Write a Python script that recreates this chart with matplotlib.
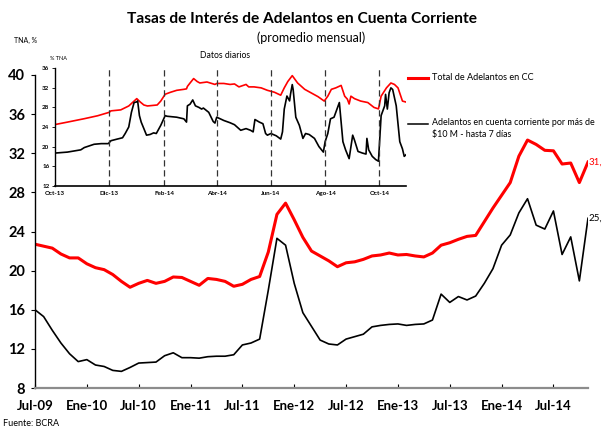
import numpy as np
import pandas as pd
import matplotlib
matplotlib.use('Agg')
import matplotlib.pyplot as plt
from matplotlib.lines import Line2D

plt.rcParams['font.family'] = ['Lato', 'DejaVu Sans']

# monthly averages, Jul-09 .. Nov-14 (TNA, %)
total_cc = [22.7, 22.5, 22.3, 21.7, 21.3, 21.3, 20.7, 20.3, 20.1, 19.6, 18.9, 18.3,
            18.7, 19.0, 18.7, 18.9, 19.35, 19.3, 18.9, 18.5, 19.2, 19.1, 18.9,
            18.4, 18.6, 19.1, 19.4, 21.9, 25.75, 26.9, 25.2, 23.4, 22.0, 21.5,
            21.0, 20.4, 20.8, 20.9, 21.15, 21.5, 21.6, 21.8, 21.6, 21.65, 21.5,
            21.4, 21.8, 22.6, 22.85, 23.2, 23.5, 23.6, 25.0, 26.4, 27.7, 29.0,
            31.7, 33.35, 32.9, 32.3, 32.25, 30.9, 31.0, 29.0, 31.1]
mas_10m = [16.0, 15.3, 13.9, 12.6, 11.5, 10.7, 10.9, 10.35, 10.2, 9.8, 9.7, 10.1,
           10.55, 10.6, 10.65, 11.3, 11.6, 11.1, 11.1, 11.05, 11.2, 11.25, 11.25,
           11.4, 12.4, 12.6, 13.0, 18.0, 23.3, 22.6, 18.7, 15.7, 14.3, 12.9,
           12.5, 12.4, 13.0, 13.25, 13.5, 14.25, 14.4, 14.5, 14.55, 14.4, 14.5,
           14.55, 14.95, 17.6, 16.75, 17.35, 17.0, 17.4, 18.7, 20.2, 22.6, 23.65,
           25.9, 27.35, 24.65, 24.25, 26.1, 21.65, 23.45, 18.95, 25.35]
month_labels = ['Jul-09', 'Ene-10', 'Jul-10', 'Ene-11', 'Jul-11', 'Ene-12',
                'Jul-12', 'Ene-13', 'Jul-13', 'Ene-14', 'Jul-14']

# daily data (days since 1-Oct-13)
red_days = [0, 14, 33, 48, 61, 63, 74, 83, 89, 92, 96, 100, 104, 115, 119, 124, 130,
            137, 145, 148, 149, 152, 156, 160, 163, 171, 180, 182, 190, 197,
            202, 207, 215, 218, 224, 232, 239, 247, 254, 258, 262, 267, 269, 273,
            281, 288, 296, 303, 307, 311, 316, 322, 326, 329, 331, 333, 337, 344,
            352, 359, 364, 367, 373, 378, 382, 386, 391, 395]
red_daily = [24.5, 25.0, 25.7, 26.3, 27.0, 27.3, 27.5, 28.3, 29.3, 29.8, 29.1, 28.5,
             28.3, 28.5, 29.3, 30.7, 31.1, 31.5, 31.7, 31.8, 32.3, 33.0, 33.9, 33.3,
             33.0, 33.2, 32.7, 32.9, 32.9, 32.7,
             32.8, 32.2, 32.7, 32.2, 32.2, 32.0, 31.5, 31.1, 30.5, 32.0, 33.3, 34.5,
             34.0, 33.0, 31.7, 31.0, 30.2, 29.3, 30.3, 31.7, 32.0, 32.5, 30.3, 29.7,
             28.7, 30.3, 29.8, 29.3, 29.0, 28.0, 27.7, 30.3, 32.0, 33.0, 32.7, 32.0,
             29.3, 29.1]
blk_days = [0, 14, 29, 33, 44, 52, 60, 63, 70, 76, 79, 83, 86, 89, 92, 93, 95, 97,
            100, 103, 107, 111, 114, 119, 124, 126, 137, 145, 148, 149, 152, 155,
            158, 162, 165, 167, 173, 178, 180, 182, 186, 190, 197,
            202, 209, 215, 220, 223, 225, 230, 234, 237, 239, 243, 249, 254, 256,
            258, 261, 264, 265, 267, 268, 271, 275, 279, 282, 286, 292, 297, 302,
            304, 307, 310, 314, 316, 320, 324, 327, 331, 335, 337, 341, 346, 350,
            351, 353, 357, 361, 364, 367, 371, 372, 374, 376, 378, 380, 384, 388,
            391, 393, 395]
blk_daily = [18.67, 18.87, 19.33, 19.8, 20.47, 20.6, 20.6, 21.2, 21.53, 21.8, 22.67,
             24.0, 27.0, 29.0, 29.13, 29.33, 26.33, 25.0, 23.67, 22.33, 22.47, 22.8,
             22.67, 24.33, 26.33, 26.2, 26.0, 25.67, 25.0, 28.33, 28.67, 29.53, 28.33,
             28.0, 27.67, 27.87, 27.0, 25.13, 24.8, 26.0, 25.67, 25.33, 24.87,
             24.47, 23.33, 23.67, 23.33, 23.0, 25.53, 25.0, 24.67, 22.67, 22.33,
             22.67, 22.2, 21.53, 23.0, 27.67, 30.33, 29.33, 30.67, 32.67, 31.67,
             26.0, 24.33, 21.67, 22.67, 22.47, 21.67, 20.0, 18.87, 21.0, 22.67,
             25.67, 26.0, 27.0, 29.0, 21.0, 19.33, 17.53, 22.33, 21.33, 19.0,
             18.67, 18.47, 21.67, 19.33, 18.0, 17.33, 17.0, 26.33, 28.33, 30.67,
             27.67, 31.0, 32.0, 31.67, 28.33, 21.0, 19.53, 18.0, 18.33]
inset_ticks = ['2013-10-01', '2013-12-01', '2014-02-01', '2014-04-01',
               '2014-06-01', '2014-08-01', '2014-10-01']
inset_labels = ['Oct-13', 'Dic-13', 'Feb-14', 'Abr-14', 'Jun-14', 'Ago-14', 'Oct-14']

RED = '#ff0000'

fig = plt.figure(figsize=(6.02, 4.28), dpi=100)

# main chart
ax = fig.add_axes([35/602, 40/428, 553/602, 313/428])
x = np.arange(len(total_cc))
ax.plot(x, total_cc, color=RED, lw=2.2)
ax.plot(x, mas_10m, color='black', lw=1.2)
ax.set_xlim(0, len(total_cc) - 1)
ax.set_ylim(8, 40)
ax.set_yticks(range(8, 41, 4))
ax.set_xticks(range(0, 61, 6))
ax.set_xticklabels(month_labels)
for s in ['top', 'right']:
    ax.spines[s].set_visible(False)
ax.spines['bottom'].set_color('#8c8c8c')
ax.spines['bottom'].set_linewidth(1.6)
ax.spines['left'].set_linewidth(1.0)
ax.tick_params(axis='y', direction='out', length=3, width=0.8, pad=4,
               labelsize=10.5)
ax.tick_params(axis='x', direction='in', length=3, width=0.8, pad=9,
               labelsize=9.5)
for lab in ax.get_xticklabels() + ax.get_yticklabels():
    lab.set_fontweight('bold')

# end-of-series values (cut by the figure edge, as in the original)
ax.text(x[-1] + 0.05, total_cc[-1], '31,1', color=RED, fontsize=7,
        va='center', ha='left', clip_on=False)
ax.text(x[-1] + 0.05, mas_10m[-1], '25,3', color='black', fontsize=7,
        va='center', ha='left', clip_on=False)

# legend drawn by hand
fig.add_artist(Line2D([408/602, 428/602], [1 - 78/428] * 2, color=RED, lw=2.2))
fig.add_artist(Line2D([408/602, 428/602], [1 - 124/428] * 2, color='black', lw=1.1))
fig.text(432/602, 1 - 78/428, 'Total de Adelantos en CC', fontsize=6.6,
         va='center', ha='left')
fig.text(432/602, 1 - 118/428,
         'Adelantos en cuenta corriente por más de\n$10 M - hasta 7 días',
         fontsize=6.4, va='top', ha='left', linespacing=1.4)

# inset with daily data
ax2 = fig.add_axes([55/602, 242.3/428, 351/602, 117.4/428])
ax2.set_facecolor('white')
t0 = pd.Timestamp('2013-10-01')
rd = t0 + pd.to_timedelta(red_days, unit='D')
bd = t0 + pd.to_timedelta(blk_days, unit='D')
ax2.plot(rd, red_daily, color=RED, lw=1.2)
ax2.plot(bd, blk_daily, color='black', lw=1.2)
tick_dates = pd.to_datetime(inset_ticks)
for d in tick_dates[1:]:
    ax2.axvline(d, color='#333333', lw=0.9, dashes=(5, 3))
ax2.set_xlim(t0, t0 + pd.Timedelta(days=395))
ax2.set_ylim(12, 36)
ax2.set_yticks(range(12, 37, 4))
ax2.set_xticks(tick_dates)
ax2.set_xticklabels(inset_labels)
for s in ['top', 'right']:
    ax2.spines[s].set_visible(False)
ax2.spines['left'].set_linewidth(1.0)
ax2.spines['bottom'].set_linewidth(1.2)
ax2.tick_params(axis='y', direction='out', length=2, width=0.6, pad=2,
                labelsize=4.5)
ax2.tick_params(axis='x', length=0, pad=4, labelsize=4.5)
for lab in ax2.get_xticklabels() + ax2.get_yticklabels():
    lab.set_fontweight('bold')

# texts
fig.text(302/602, 1 - 19/428, 'Tasas de Interés de Adelantos en Cuenta Corriente',
         fontsize=11.2, fontweight='bold', ha='center', va='center')
fig.text(311/602, 1 - 38/428, '(promedio mensual)', fontsize=9,
         ha='center', va='center')
fig.text(14/602, 1 - 40/428, 'TNA, %', fontsize=5, va='center')
fig.text(50/602, 1 - 58/428, '% TNA', fontsize=4, va='center')
fig.text(225/602, 1 - 55/428, 'Datos diarios', fontsize=6.2, ha='center',
         va='center')
fig.text(3/602, 1 - 423/428, 'Fuente: BCRA', fontsize=6.5, va='center')

fig.savefig('out.png', dpi=100)
